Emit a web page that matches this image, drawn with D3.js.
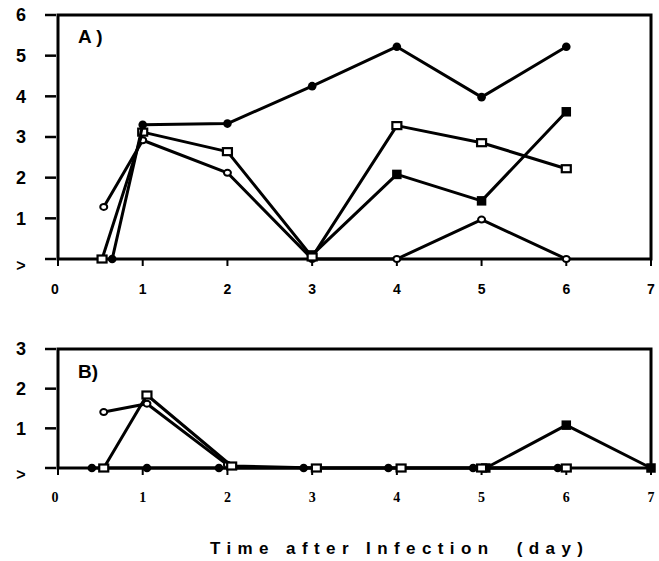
<!DOCTYPE html>
<html>
<head>
<meta charset="utf-8">
<script src="https://cdn.jsdelivr.net/npm/d3@7"></script>
<style>
  body { margin: 0; background: #fff; }
  svg { display: block; }
</style>
</head>
<body>
<div id="chart"></div>
<script>
// days on the x axis, shared by both panels
const dayTicks = [0, 1, 2, 3, 4, 5, 6, 7];

// panel A series (x = day, y = value); 0 means below detection (">")
const aFilledCircleDays = [0.64, 1, 2, 3, 4, 5, 6];
const aFilledCircleVals = [0, 3.3, 3.33, 4.25, 5.22, 3.98, 5.22];
const aOpenSquareDays = [0.52, 1, 2, 3, 4, 5, 6];
const aOpenSquareVals = [0, 3.12, 2.64, 0.05, 3.28, 2.86, 2.22];
const aFilledSquareDays = [3, 4, 5, 6];
const aFilledSquareVals = [0.1, 2.08, 1.43, 3.62];
const aOpenCircleDays = [0.54, 1, 2, 3, 4, 5, 6];
const aOpenCircleVals = [1.28, 2.92, 2.12, 0, 0, 0.97, 0];
const aYTicks = [0, 1, 2, 3, 4, 5, 6];

// panel B series
const bFilledCircleDays = [0.4, 1.05, 1.9, 2.9, 3.9, 4.9, 5.9];
const bFilledCircleVals = [0, 0, 0, 0, 0, 0, 0];
const bOpenCircleDays = [0.54, 1.05, 2.0];
const bOpenCircleVals = [1.41, 1.62, 0.08];
const bOpenSquareDays = [0.54, 1.05, 2.05, 3.05, 4.05, 5.0, 6.0];
const bOpenSquareVals = [0, 1.84, 0.05, 0, 0, 0, 0];
const bFilledSquareDays = [5.05, 6.0, 7.0];
const bFilledSquareVals = [0, 1.08, 0];
const bYTicks = [0, 1, 2, 3];

const zip = (xs, ys) => xs.map((x, i) => ({ x, y: ys[i] }));

const width = 659, height = 561;
const svg = d3.select("#chart").append("svg")
    .attr("width", width)
    .attr("height", height);

svg.append("rect").attr("width", width).attr("height", height).attr("fill", "#fff");

const x = d3.scaleLinear().domain([0, 7]).range([58, 651]);

function panel(opts) {
    const y = d3.scaleLinear().domain([0, opts.max]).range([opts.bottom, opts.top]);
    const g = svg.append("g");

    // frame: left axis, bottom axis, top & right border
    g.append("rect")
        .attr("x", x(0)).attr("y", y(opts.max))
        .attr("width", x(7) - x(0)).attr("height", y(0) - y(opts.max))
        .attr("fill", "none").attr("stroke", "#000").attr("stroke-width", 3);

    // y ticks (outside, with small gap)
    g.selectAll(".yt").data(opts.yTicks).join("line")
        .attr("x1", 45).attr("x2", 56)
        .attr("y1", d => y(d)).attr("y2", d => y(d))
        .attr("stroke", "#000").attr("stroke-width", 2.5);

    g.selectAll(".yl").data(opts.yTicks).join("text")
        .attr("x", 21)
        .attr("y", d => d === 0 ? y(d) + 6 : y(d))
        .attr("dy", "0.36em")
        .attr("text-anchor", "middle")
        .attr("font-family", "Liberation Sans, Arial, sans-serif")
        .attr("font-weight", "bold")
        .attr("font-size", d => d === 0 ? 16 : 18)
        .text(d => d === 0 ? ">" : d);

    // x ticks
    g.selectAll(".xt").data(dayTicks).join("line")
        .attr("x1", d => x(d)).attr("x2", d => x(d))
        .attr("y1", y(0)).attr("y2", y(0) + 7)
        .attr("stroke", "#000").attr("stroke-width", 2);

    g.selectAll(".xl").data(dayTicks).join("text")
        .attr("x", d => x(d) - (d === 0 ? 3 : 0))
        .attr("y", y(0) + opts.xLabelOffset)
        .attr("dy", "0.36em")
        .attr("text-anchor", "middle")
        .attr("font-family", opts.xFont)
        .attr("font-weight", "bold")
        .attr("font-size", 14)
        .text(d => d);

    g.append("text")
        .attr("x", 78).attr("y", opts.labelY)
        .attr("font-family", "Liberation Sans, Arial, sans-serif")
        .attr("font-weight", "bold")
        .attr("font-size", 19)
        .style("white-space", "pre")
        .text(opts.label);

    const line = d3.line().x(d => x(d.x)).y(d => y(d.y));

    opts.series.forEach(s => {
        const pts = zip(s.days, s.vals);
        g.append("path")
            .datum(pts)
            .attr("d", line)
            .attr("fill", "none")
            .attr("stroke", "#000")
            .attr("stroke-width", 3)
            .attr("stroke-linejoin", "round");

        const m = g.append("g");
        if (s.shape === "filledCircle") {
            m.selectAll("circle").data(pts).join("circle")
                .attr("cx", d => x(d.x)).attr("cy", d => y(d.y)).attr("r", 4.3)
                .attr("fill", "#000");
        } else if (s.shape === "openCircle") {
            m.selectAll("ellipse").data(pts).join("ellipse")
                .attr("cx", d => x(d.x)).attr("cy", d => y(d.y)).attr("rx", 3.5).attr("ry", 3)
                .attr("fill", "#fff").attr("stroke", "#000").attr("stroke-width", 2);
        } else if (s.shape === "openSquare") {
            m.selectAll("rect").data(pts).join("rect")
                .attr("x", d => x(d.x) - 4.5).attr("y", d => y(d.y) - 3.5)
                .attr("width", 9).attr("height", 7)
                .attr("fill", "#fff").attr("stroke", "#000").attr("stroke-width", 2.2);
        } else {
            m.selectAll("rect").data(pts).join("rect")
                .attr("x", d => x(d.x) - 4.75).attr("y", d => y(d.y) - 4.75)
                .attr("width", 9.5).attr("height", 9.5)
                .attr("fill", "#000");
        }
    });
}

panel({
    max: 6, top: 15, bottom: 259,
    yTicks: aYTicks,
    xLabelOffset: 30,
    xFont: "Liberation Sans, Arial, sans-serif",
    label: "A )", labelY: 43,
    series: [
        { shape: "openCircle", days: aOpenCircleDays, vals: aOpenCircleVals },
        { shape: "filledSquare", days: aFilledSquareDays, vals: aFilledSquareVals },
        { shape: "openSquare", days: aOpenSquareDays, vals: aOpenSquareVals },
        { shape: "filledCircle", days: aFilledCircleDays, vals: aFilledCircleVals }
    ]
});

panel({
    max: 3, top: 349, bottom: 468,
    yTicks: bYTicks,
    xLabelOffset: 29,
    xFont: "Liberation Serif, Times New Roman, serif",
    label: "B)", labelY: 378,
    series: [
        { shape: "filledCircle", days: bFilledCircleDays, vals: bFilledCircleVals },
        { shape: "openCircle", days: bOpenCircleDays, vals: bOpenCircleVals },
        { shape: "filledSquare", days: bFilledSquareDays, vals: bFilledSquareVals },
        { shape: "openSquare", days: bOpenSquareDays, vals: bOpenSquareVals }
    ]
});

// x axis title, letter-spaced
svg.append("text")
    .attr("x", 210).attr("y", 554)
    .attr("font-family", "Liberation Sans, Arial, sans-serif")
    .attr("font-weight", "bold")
    .attr("font-size", 17)
    .attr("textLength", 373)
    .attr("lengthAdjust", "spacing")
    .style("white-space", "pre")
    .text("Time after Infection  (day)");
</script>
</body>
</html>
